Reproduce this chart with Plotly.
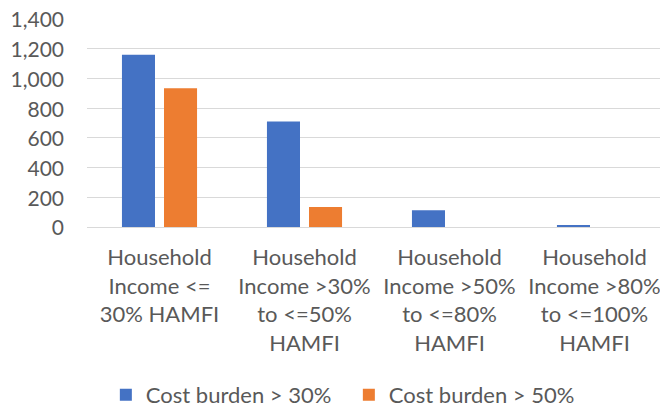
import plotly.graph_objects as go

categories = [
    "Household<br>Income <=<br>30% HAMFI",
    "Household<br>Income >30%<br>to <=50%<br>HAMFI",
    "Household<br>Income >50%<br>to <=80%<br>HAMFI",
    "Household<br>Income >80%<br>to <=100%<br>HAMFI",
]
burden30 = [1160, 710, 113, 12]
burden50 = [935, 135, 0, 0]
series_names = ["Cost burden > 30%", "Cost burden > 50%"]
y_ticks = [0, 200, 400, 600, 800, 1000, 1200, 1400]

FONT = "Lato"
TXT = "#595959"

fig = go.Figure()
fig.add_trace(go.Bar(x=categories, y=burden30, name=series_names[0],
                     marker=dict(color="#4472C4", line=dict(width=0))))
fig.add_trace(go.Bar(x=categories, y=burden50, name=series_names[1],
                     marker=dict(color="#ED7D31", line=dict(width=0))))

fig.update_layout(
    width=660, height=401,
    margin=dict(l=79, r=1, t=11, b=182, autoexpand=False),
    paper_bgcolor="white", plot_bgcolor="white",
    barmode="group", bargap=0.42, bargroupgap=0.214,
    font=dict(family=FONT, size=22, color=TXT),
    showlegend=True,
    legend=dict(orientation="h", x=0.0325, xanchor="left", y=-0.808, yanchor="middle",
                font=dict(family=FONT, size=22, color=TXT),
                entrywidth=198, entrywidthmode="pixels",
                itemclick=False, itemdoubleclick=False),
    xaxis=dict(showgrid=False, showline=False, ticks="", zeroline=False,
               tickfont=dict(family=FONT, size=22, color=TXT),
               ticklabelstandoff=15),
    yaxis=dict(range=[0, 1400.5], tickvals=y_ticks, tickformat=",",
               showgrid=True, gridcolor="#D9D9D9", gridwidth=1,
               zeroline=True, zerolinecolor="#D9D9D9", zerolinewidth=1,
               showline=False, ticks="", ticklabeloverflow="allow",
               tickfont=dict(family=FONT, size=21, color=TXT),
               ticklabelstandoff=22, ticklabelshift=1),
)

fig.write_html("out.html")
